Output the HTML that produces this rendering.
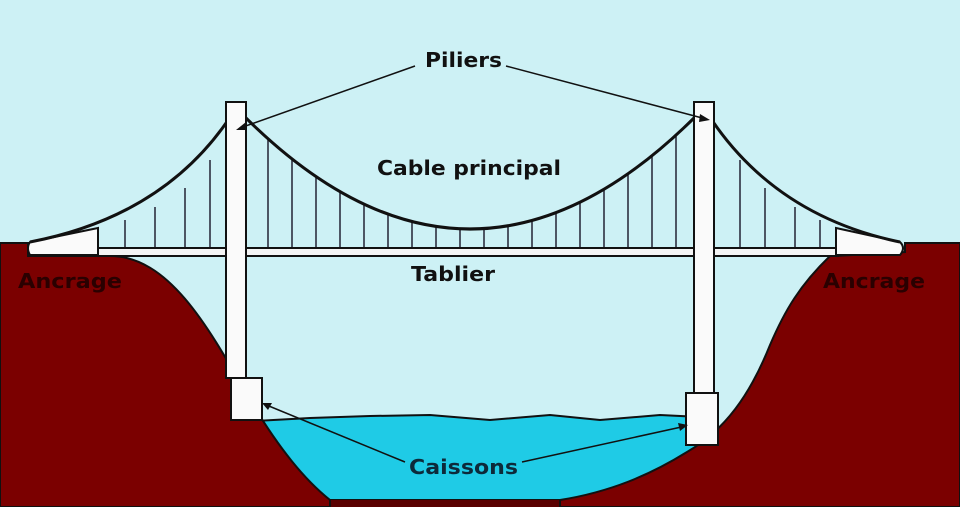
<!DOCTYPE html>
<html><head><meta charset="utf-8"><style>html,body{margin:0;padding:0;background:#cdf1f5}svg{display:block}</style></head><body>
<svg width="960" height="507" viewBox="0 0 960 507" xmlns="http://www.w3.org/2000/svg" font-family="'DejaVu Sans','Liberation Sans',sans-serif" font-weight="bold">
<rect width="960" height="507" fill="#cdf1f5"/>
<!-- water -->
<path d="M255,421 L310,418 L370,416 L430,415 L490,420 L550,415 L600,420 L660,415 L700,417 L700,470 L600,500 L320,500 L255,440 Z" fill="#1fcbe6" stroke="#111" stroke-width="2"/>
<rect x="0" y="500" width="960" height="7" fill="#5a0000"/>
<!-- left ground -->
<path d="M0,243 L28,243 L28,256 L110,256 C170,256 210,330 250,400 C280,450 305,480 330,500 L330,507 L0,507 Z" fill="#7b0000" stroke="#111" stroke-width="2"/>
<!-- right ground -->
<path d="M960,243 L905,243 L905,252 L835,256 L830,256 C800,285 785,310 770,345 C750,395 725,430 687,452 C650,475 610,492 560,500 L560,507 L960,507 Z" fill="#7b0000" stroke="#111" stroke-width="2"/>
<!-- hangers -->
<g stroke="#223" stroke-width="1.5">
<line x1="125" y1="220" x2="125" y2="248"/><line x1="155" y1="207" x2="155" y2="248"/><line x1="185" y1="188" x2="185" y2="248"/><line x1="210" y1="160" x2="210" y2="248"/>
<line x1="268" y1="138" x2="268" y2="248"/><line x1="292" y1="158" x2="292" y2="248"/><line x1="316" y1="176" x2="316" y2="248"/><line x1="340" y1="191" x2="340" y2="248"/><line x1="364" y1="204" x2="364" y2="248"/><line x1="388" y1="214" x2="388" y2="248"/><line x1="412" y1="221" x2="412" y2="248"/><line x1="436" y1="226" x2="436" y2="248"/><line x1="460" y1="228" x2="460" y2="248"/><line x1="484" y1="228" x2="484" y2="248"/><line x1="508" y1="225" x2="508" y2="248"/><line x1="532" y1="220" x2="532" y2="248"/><line x1="556" y1="212" x2="556" y2="248"/><line x1="580" y1="202" x2="580" y2="248"/><line x1="604" y1="189" x2="604" y2="248"/><line x1="628" y1="173" x2="628" y2="248"/><line x1="652" y1="155" x2="652" y2="248"/><line x1="676" y1="135" x2="676" y2="248"/>
<line x1="740" y1="160" x2="740" y2="248"/><line x1="765" y1="188" x2="765" y2="248"/><line x1="795" y1="207" x2="795" y2="248"/><line x1="820" y1="220" x2="820" y2="248"/>
</g>
<!-- deck -->
<rect x="98" y="248" width="740" height="8" fill="#f4f4f4" stroke="#111" stroke-width="2"/>
<!-- anchorages -->
<path d="M30,242 L98,228 L98,255 L30,255 Q26,248 30,242 Z" fill="#fafafa" stroke="#111" stroke-width="2"/>
<path d="M836,228 L900,242 Q906,248 900,255 L836,255 Z" fill="#fafafa" stroke="#111" stroke-width="2"/>
<!-- cables -->
<path d="M30,242 Q170,215 236,108 M246,118 Q470,340 694,118 M704,108 Q770,215 900,242" fill="none" stroke="#111" stroke-width="3"/>
<!-- towers -->
<rect x="226" y="102" width="20" height="276" fill="#fafafa" stroke="#111" stroke-width="2"/>
<rect x="231" y="378" width="31" height="42" fill="#fafafa" stroke="#111" stroke-width="2"/>
<rect x="694" y="102" width="20" height="291" fill="#fafafa" stroke="#111" stroke-width="2"/>
<rect x="686" y="393" width="32" height="52" fill="#fafafa" stroke="#111" stroke-width="2"/>
<!-- arrows -->
<g stroke="#111" stroke-width="1.5" fill="none">
<line x1="415" y1="66" x2="240" y2="128"/><line x1="506" y1="66" x2="706" y2="119"/>
<line x1="405" y1="462" x2="264" y2="404"/><line x1="522" y1="462" x2="686" y2="426"/>
</g>
<g fill="#111">
<polygon points="236,130 246,122 246,130"/><polygon points="710,120 700,114 699,122"/>
<polygon points="262,403 272,403 268,410"/><polygon points="688,425 678,423 680,431"/>
</g>
<g font-size="20" fill="#111">
<text x="425" y="67" textLength="77" lengthAdjust="spacingAndGlyphs">Piliers</text>
<text x="377" y="175" textLength="184" lengthAdjust="spacingAndGlyphs">Cable principal</text>
<text x="411" y="281" textLength="84" lengthAdjust="spacingAndGlyphs">Tablier</text>
<text x="409" y="474" textLength="109" lengthAdjust="spacingAndGlyphs" fill="#0d2a3a">Caissons</text>
</g>
<g font-size="20" fill="#2a0000">
<text x="18" y="288" textLength="104" lengthAdjust="spacingAndGlyphs">Ancrage</text>
<text x="823" y="288" textLength="102" lengthAdjust="spacingAndGlyphs">Ancrage</text>
</g>
</svg>
</body></html>
